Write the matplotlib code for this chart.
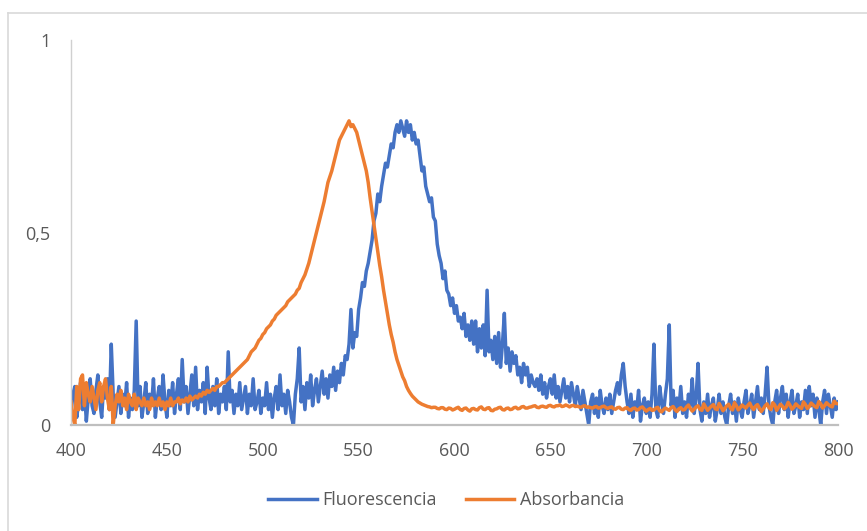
"""
Espectros de fluorescencia y absorbancia (normalizados) entre 400 y 800 nm.
Valores leidos a mano del grafico original, cada 1 nm.
"""
import matplotlib
matplotlib.use("Agg")
import matplotlib.pyplot as plt
from matplotlib.lines import Line2D

# ── Datos ─────────────────────────────────────────────────────────────────────

wavelength = list(range(400, 801))

fluorescencia = [
    0.03, 0.08, 0.10, 0.02, 0.06, 0.11, 0.04, 0.09, 0.01, 0.07,   # 400
    0.12, 0.05, 0.03, 0.09, 0.13, 0.06, 0.02, 0.10, 0.07, 0.12,   # 410
    0.04, 0.21, 0.08, 0.02, 0.06, 0.10, 0.03, 0.08, 0.05, 0.11,   # 420
    0.02, 0.07, 0.04, 0.09, 0.27, 0.05, 0.10, 0.02, 0.06, 0.11,   # 430
    0.03, 0.08, 0.05, 0.12, 0.02, 0.07, 0.10, 0.04, 0.13, 0.06,   # 440
    0.02, 0.09, 0.05, 0.11, 0.03, 0.08, 0.12, 0.04, 0.17, 0.06,   # 450
    0.10, 0.03, 0.08, 0.13, 0.05, 0.15, 0.04, 0.09, 0.06, 0.11,   # 460
    0.03, 0.15, 0.07, 0.04, 0.10, 0.05, 0.12, 0.03, 0.08, 0.06,   # 470
    0.10, 0.04, 0.19, 0.06, 0.09, 0.03, 0.08, 0.05, 0.11, 0.04,   # 480
    0.07, 0.10, 0.03, 0.08, 0.05, 0.12, 0.04, 0.06, 0.09, 0.03,   # 490
    0.07, 0.05, 0.11, 0.04, 0.08, 0.02, 0.07, 0.10, 0.04, 0.13,   # 500
    0.05, 0.08, 0.03, 0.09, 0.06, 0.02, 0.00, 0.08, 0.12, 0.20,   # 510
    0.06, 0.10, 0.04, 0.11, 0.07, 0.13, 0.05, 0.09, 0.12, 0.06,   # 520
    0.10, 0.14, 0.08, 0.12, 0.07, 0.13, 0.10, 0.15, 0.09, 0.14,   # 530
    0.11, 0.16, 0.13, 0.18, 0.17, 0.21, 0.30, 0.20, 0.24, 0.23,   # 540
    0.30, 0.33, 0.37, 0.36, 0.40, 0.42, 0.45, 0.48, 0.53, 0.55,   # 550
    0.60, 0.58, 0.62, 0.65, 0.68, 0.67, 0.70, 0.73, 0.72, 0.76,   # 560
    0.78, 0.76, 0.79, 0.77, 0.75, 0.79, 0.76, 0.78, 0.74, 0.76,   # 570
    0.73, 0.74, 0.70, 0.66, 0.67, 0.62, 0.60, 0.58, 0.59, 0.54,   # 580
    0.53, 0.47, 0.44, 0.42, 0.38, 0.40, 0.35, 0.34, 0.31, 0.33,   # 590
    0.29, 0.31, 0.27, 0.28, 0.25, 0.29, 0.23, 0.26, 0.22, 0.27,   # 600
    0.21, 0.27, 0.19, 0.25, 0.20, 0.26, 0.18, 0.35, 0.19, 0.22,   # 610
    0.17, 0.23, 0.16, 0.24, 0.15, 0.21, 0.29, 0.16, 0.20, 0.14,   # 620
    0.19, 0.16, 0.18, 0.13, 0.15, 0.11, 0.16, 0.13, 0.15, 0.10,   # 630
    0.13, 0.11, 0.10, 0.12, 0.09, 0.13, 0.08, 0.11, 0.07, 0.10,   # 640
    0.12, 0.08, 0.13, 0.07, 0.10, 0.06, 0.09, 0.12, 0.07, 0.10,   # 650
    0.06, 0.11, 0.08, 0.05, 0.10, 0.07, 0.04, 0.09, 0.06, 0.03,   # 660
    0.00, 0.06, 0.08, 0.03, 0.07, 0.02, 0.09, 0.05, 0.03, 0.07,   # 670
    0.04, 0.08, 0.03, 0.06, 0.09, 0.11, 0.08, 0.13, 0.16, 0.10,   # 680
    0.06, 0.03, 0.08, 0.02, 0.06, 0.04, 0.09, 0.01, 0.05, 0.07,   # 690
    0.03, 0.06, 0.02, 0.08, 0.21, 0.04, 0.02, 0.10, 0.06, 0.03,   # 700
    0.08, 0.12, 0.26, 0.05, 0.09, 0.02, 0.07, 0.04, 0.10, 0.03,   # 710
    0.06, 0.02, 0.08, 0.05, 0.12, 0.03, 0.07, 0.16, 0.04, 0.01,   # 720
    0.06, 0.03, 0.08, 0.02, 0.05, 0.07, 0.01, 0.04, 0.08, 0.03,   # 730
    0.06, 0.02, 0.00, 0.05, 0.08, 0.03, 0.06, 0.01, 0.07, 0.04,   # 740
    0.02, 0.06, 0.09, 0.03, 0.05, 0.08, 0.02, 0.06, 0.10, 0.04,   # 750
    0.07, 0.03, 0.08, 0.15, 0.05, 0.02, 0.00, 0.06, 0.09, 0.03,   # 760
    0.07, 0.10, 0.04, 0.08, 0.02, 0.06, 0.09, 0.03, 0.05, 0.08,   # 770
    0.02, 0.06, 0.04, 0.09, 0.03, 0.10, 0.05, 0.08, 0.02, 0.07,   # 780
    0.04, 0.00, 0.06, 0.09, 0.03, 0.08, 0.05, 0.02, 0.07, 0.04,   # 790
    0.06,                                                         # 800
]

absorbancia = [
    0.06, 0.02, 0.00, 0.10, 0.04, 0.12, 0.13, 0.05, 0.11, 0.08,   # 400
    0.06, 0.10, 0.07, 0.04, 0.09, 0.11, 0.06, 0.10, 0.12, 0.07,   # 410
    0.04, 0.10, 0.00, 0.05, 0.08, 0.06, 0.09, 0.05, 0.07, 0.04,   # 420
    0.08, 0.06, 0.05, 0.08, 0.04, 0.07, 0.06, 0.05, 0.07, 0.05,   # 430
    0.06, 0.04, 0.07, 0.05, 0.06, 0.05, 0.07, 0.05, 0.06, 0.04,   # 440
    0.06, 0.05, 0.07, 0.05, 0.06, 0.06, 0.07, 0.055, 0.065, 0.06,  # 450
    0.07, 0.06, 0.075, 0.065, 0.07, 0.075, 0.07, 0.08, 0.075, 0.085,  # 460
    0.08, 0.09, 0.085, 0.09, 0.095, 0.09, 0.10, 0.10, 0.105, 0.11,  # 470
    0.11, 0.115, 0.12, 0.125, 0.13, 0.135, 0.14, 0.145, 0.15, 0.155,  # 480
    0.16, 0.165, 0.17, 0.18, 0.19, 0.195, 0.20, 0.21, 0.22, 0.225,  # 490
    0.235, 0.24, 0.25, 0.255, 0.26, 0.27, 0.275, 0.285, 0.29, 0.295,  # 500
    0.30, 0.305, 0.31, 0.32, 0.325, 0.33, 0.335, 0.34, 0.35, 0.355,  # 510
    0.37, 0.38, 0.39, 0.405, 0.42, 0.44, 0.46, 0.48, 0.50, 0.52,  # 520
    0.54, 0.56, 0.58, 0.605, 0.63, 0.645, 0.66, 0.68, 0.70, 0.72,  # 530
    0.74, 0.75, 0.76, 0.77, 0.78, 0.79, 0.775, 0.78, 0.77, 0.76,  # 540
    0.74, 0.72, 0.70, 0.68, 0.66, 0.63, 0.59, 0.555, 0.52, 0.485,  # 550
    0.45, 0.415, 0.385, 0.35, 0.32, 0.29, 0.26, 0.235, 0.215, 0.19,  # 560
    0.17, 0.155, 0.14, 0.125, 0.115, 0.10, 0.09, 0.082, 0.075, 0.07,  # 570
    0.065, 0.06, 0.057, 0.054, 0.052, 0.05, 0.048, 0.047, 0.045, 0.046,  # 580
    0.046, 0.043, 0.042, 0.045, 0.045, 0.041, 0.040, 0.044, 0.043, 0.039,  # 590
    0.041, 0.044, 0.046, 0.040, 0.038, 0.043, 0.044, 0.039, 0.036, 0.042,  # 600
    0.043, 0.040, 0.039, 0.045, 0.047, 0.041, 0.040, 0.044, 0.045, 0.038,  # 610
    0.037, 0.041, 0.042, 0.045, 0.046, 0.040, 0.039, 0.043, 0.044, 0.040,  # 620
    0.041, 0.045, 0.046, 0.042, 0.043, 0.047, 0.048, 0.044, 0.044, 0.046,  # 630
    0.047, 0.049, 0.050, 0.046, 0.045, 0.048, 0.049, 0.047, 0.046, 0.050,  # 640
    0.051, 0.048, 0.047, 0.050, 0.050, 0.052, 0.048, 0.049, 0.052, 0.050,  # 650
    0.047, 0.050, 0.051, 0.048, 0.049, 0.047, 0.046, 0.049, 0.050, 0.046,  # 660
    0.047, 0.045, 0.044, 0.047, 0.048, 0.044, 0.045, 0.048, 0.049, 0.045,  # 670
    0.043, 0.046, 0.047, 0.042, 0.041, 0.045, 0.046, 0.041, 0.040, 0.044,  # 680
    0.045, 0.040, 0.038, 0.043, 0.044, 0.039, 0.040, 0.045, 0.047, 0.041,  # 690
    0.036, 0.040, 0.043, 0.038, 0.039, 0.044, 0.046, 0.037, 0.034, 0.040,  # 700
    0.044, 0.041, 0.038, 0.045, 0.048, 0.040, 0.035, 0.042, 0.045, 0.039,  # 710
    0.040, 0.047, 0.052, 0.043, 0.036, 0.041, 0.047, 0.050, 0.041, 0.038,  # 720
    0.055, 0.046, 0.038, 0.044, 0.049, 0.053, 0.042, 0.040, 0.056, 0.047,  # 730
    0.037, 0.043, 0.050, 0.054, 0.043, 0.039, 0.058, 0.050, 0.039, 0.045,  # 740
    0.052, 0.047, 0.044, 0.051, 0.057, 0.046, 0.040, 0.049, 0.053, 0.044,  # 750
    0.035, 0.042, 0.050, 0.055, 0.045, 0.040, 0.058, 0.052, 0.038, 0.046,  # 760
    0.054, 0.049, 0.042, 0.047, 0.059, 0.051, 0.041, 0.046, 0.055, 0.050,  # 770
    0.046, 0.043, 0.060, 0.053, 0.043, 0.048, 0.057, 0.052, 0.048, 0.045,  # 780
    0.061, 0.055, 0.044, 0.050, 0.058, 0.053, 0.049, 0.047, 0.062, 0.056,  # 790
    0.055,                                                                 # 800
]

x_ticks = [400, 450, 500, 550, 600, 650, 700, 750, 800]
y_ticks = [0, 0.5, 1]
y_tick_labels = ["0", "0,5", "1"]

# ── Estilo ────────────────────────────────────────────────────────────────────

BLUE = "#4472C4"
ORANGE = "#ED7D31"
TEXT = "#595959"

plt.rcParams["font.family"] = ["Open Sans", "DejaVu Sans"]

fig = plt.figure(figsize=(8.67, 5.31), dpi=100)
ax = fig.add_axes([71 / 867, 1 - 425 / 531, (838 - 71) / 867, (425 - 40) / 531])

ax.plot(wavelength, fluorescencia, color=BLUE, linewidth=2.5,
        solid_joinstyle="round", label="Fluorescencia")
ax.plot(wavelength, absorbancia, color=ORANGE, linewidth=2.5,
        solid_joinstyle="round", label="Absorbancia")

ax.set_xlim(400, 800)
ax.set_ylim(0, 1)
ax.set_xticks(x_ticks)
ax.set_yticks(y_ticks)
ax.set_yticklabels(y_tick_labels)
ax.tick_params(axis="both", length=0, labelsize=13, labelcolor=TEXT)
ax.tick_params(axis="x", pad=12)
ax.tick_params(axis="y", pad=15)

for side in ("top", "right"):
    ax.spines[side].set_visible(False)
ax.spines["bottom"].set_color("#BFBFBF")
ax.spines["bottom"].set_linewidth(1.6)
ax.spines["left"].set_color("#D0D0D0")
ax.spines["left"].set_linewidth(1.0)

# borde del area del grafico (recortado a derecha y abajo)
fig.add_artist(Line2D([8 / 867, 1], [1 - 13 / 531] * 2, transform=fig.transFigure,
                      color="#D9D9D9", linewidth=1.2))
fig.add_artist(Line2D([8 / 867] * 2, [0, 1 - 13 / 531], transform=fig.transFigure,
                      color="#D9D9D9", linewidth=1.2))

fig.legend(loc="center", bbox_to_anchor=(446 / 867, 1 - 500 / 531), ncol=2,
           frameon=False, fontsize=13, labelcolor=TEXT, handlelength=2.7,
           handletextpad=0.3, columnspacing=1.6)

fig.savefig("out.png", dpi=100)
plt.close(fig)
